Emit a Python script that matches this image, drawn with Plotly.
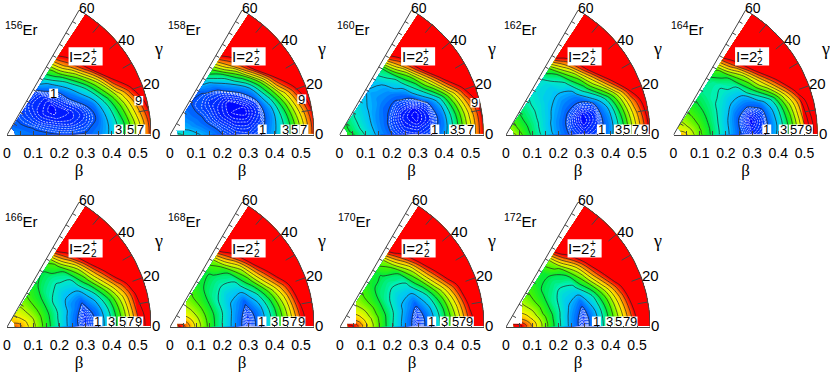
import numpy as np
import plotly.graph_objects as go

beta_grid = [0.03, 0.06, 0.10, 0.15, 0.20, 0.25, 0.30, 0.35, 0.40, 0.45, 0.50, 0.55]
gamma_grid = [0.5, 5, 10, 15, 20, 30, 40, 50, 57]

# Energies (MeV): one row per gamma_grid value, one column per beta_grid value
E156 = [
    [1.6, 1.4, 1.25, 1.1, 1.0, 1.0, 1.05, 1.4, 2.2, 4.1, 6.5, 9.4],
    [1.6, 1.35, 1.15, .95, .8, .75, .85, 1.25, 2.2, 4.0, 6.5, 9.5],
    [1.5, 1.3, 1.05, .8, .6, .5, .65, 1.05, 2.4, 4.5, 7.2, 10],
    [1.5, 1.25, 1.0, .65, .4, .35, .55, 1.1, 2.8, 5.2, 8.0, 10.8],
    [1.5, 1.2, .9, .5, .25, .3, .65, 1.4, 3.5, 6.3, 9.4, 12],
    [1.4, 1.1, .8, .35, .1, .6, 1.4, 3.0, 6.0, 10.5, 12, 12],
    [1.3, 1.05, .75, .4, .3, .9, 2.5, 5.5, 10, 12, 12, 12],
    [1.3, 1.05, .75, .5, .55, 1.8, 4.5, 8.5, 11, 12, 12, 12],
    [1.2, 1.05, .8, .65, .85, 2.7, 5.2, 9.5, 12, 12, 12, 12],
]
E158 = [
    [3.4, 2.8, 2.2, 1.6, 1.0, .72, .66, 1.0, 1.9, 3.5, 6.3, 9.5],
    [3.2, 2.6, 2.0, 1.4, .85, .55, .5, .8, 1.8, 3.5, 6.3, 9.6],
    [3.0, 2.4, 1.8, 1.2, .7, .35, .28, .6, 1.7, 3.9, 6.9, 10],
    [2.8, 2.2, 1.65, 1.05, .55, .2, .1, .5, 1.9, 4.6, 7.9, 10.8],
    [2.6, 2.0, 1.5, .95, .45, .1, .05, .6, 2.6, 5.8, 9.2, 12],
    [2.4, 1.9, 1.4, .9, .45, .2, .6, 1.7, 5.0, 10, 12, 12],
    [2.2, 1.8, 1.3, .85, .55, .7, 1.9, 4.6, 10, 12, 12, 12],
    [2.1, 1.7, 1.3, .9, .9, 1.6, 3.8, 8.2, 11, 12, 12, 12],
    [2.0, 1.7, 1.3, 1.0, 1.2, 2.6, 5.2, 9.5, 12, 12, 12, 12],
]
E160 = [
    [4.8, 3.9, 2.9, 1.7, 1.0, .65, .55, .8, 1.6, 3.9, 6.8, 10],
    [4.7, 3.8, 2.8, 1.6, .9, .45, .35, .6, 1.4, 3.8, 6.8, 10],
    [4.5, 3.7, 2.7, 1.55, .85, .35, .1, .4, 1.4, 4.0, 7.1, 10.2],
    [4.4, 3.6, 2.6, 1.55, .85, .3, .02, .45, 1.7, 4.6, 8.0, 11],
    [4.3, 3.5, 2.6, 1.55, .95, .4, .2, .7, 2.4, 5.8, 9.6, 12],
    [4.3, 3.5, 2.6, 1.7, 1.1, .9, 1.2, 3.2, 6.4, 10.8, 12, 12],
    [4.3, 3.5, 2.7, 1.9, 1.5, 1.5, 2.5, 5.2, 10.5, 12, 12, 12],
    [4.4, 3.6, 2.8, 2.1, 1.7, 2.0, 3.5, 8.0, 11.5, 12, 12, 12],
    [4.5, 3.8, 3.0, 2.4, 1.9, 2.4, 3.9, 9.5, 12, 12, 12, 12],
]
E162 = [
    [6.4, 5.1, 3.8, 2.6, 1.6, .85, .5, .75, 1.6, 4.1, 7.2, 10.4],
    [6.3, 5.0, 3.75, 2.5, 1.5, .75, .3, .6, 1.5, 4.0, 7.2, 10.4],
    [6.1, 4.9, 3.7, 2.5, 1.5, .7, .1, .5, 1.6, 4.3, 7.6, 10.7],
    [6.0, 4.8, 3.7, 2.5, 1.55, .8, .15, .55, 1.9, 4.9, 8.4, 11.2],
    [5.9, 4.8, 3.7, 2.6, 1.7, 1.0, .6, .85, 2.8, 6.0, 10, 12],
    [5.8, 4.7, 3.7, 2.7, 2.0, 1.5, 1.5, 3.6, 6.8, 11, 12, 12],
    [5.8, 4.7, 3.7, 2.9, 2.3, 2.1, 2.8, 5.5, 10.5, 12, 12, 12],
    [5.8, 4.8, 3.8, 3.0, 2.5, 2.5, 3.9, 8.0, 11.5, 12, 12, 12],
    [5.9, 4.9, 3.9, 3.1, 2.7, 2.9, 4.8, 10, 12, 12, 12, 12],
]
E164 = [
    [8.0, 6.7, 5.3, 3.7, 2.3, 1.1, .5, .85, 2.2, 4.6, 7.9, 11],
    [7.9, 6.6, 5.2, 3.7, 2.3, 1.05, .3, .7, 2.1, 4.6, 8.0, 11],
    [7.7, 6.5, 5.2, 3.7, 2.3, 1.05, .1, .7, 2.2, 4.9, 8.4, 11.4],
    [7.5, 6.4, 5.1, 3.7, 2.35, 1.15, .35, .85, 2.4, 5.5, 8.8, 12],
    [7.3, 6.3, 5.1, 3.7, 2.5, 1.4, .9, 1.3, 3.2, 6.8, 10.5, 12],
    [7.0, 6.1, 5.0, 3.8, 2.8, 2.1, 2.0, 4.2, 7.3, 11, 12, 12],
    [6.8, 6.0, 5.0, 3.9, 3.1, 2.8, 3.3, 6.0, 11, 12, 12, 12],
    [6.8, 6.0, 5.0, 4.0, 3.3, 3.2, 4.4, 9.0, 12, 12, 12, 12],
    [6.8, 6.0, 5.1, 4.1, 3.4, 3.6, 5.2, 10, 12, 12, 12, 12],
]
E166 = [
    [9.1, 7.9, 6.3, 4.5, 2.9, 1.4, .5, 1.2, 3.1, 5.6, 8.8, 11],
    [9.0, 7.8, 6.3, 4.5, 2.9, 1.4, .4, 1.2, 3.1, 5.7, 9.0, 11],
    [8.9, 7.7, 6.2, 4.5, 2.9, 1.5, .55, 1.35, 3.3, 6.0, 9.4, 11.5],
    [8.7, 7.6, 6.2, 4.5, 3.0, 1.7, .8, 1.8, 3.8, 6.6, 9.8, 12],
    [8.4, 7.4, 6.1, 4.5, 3.0, 1.7, 1.15, 2.4, 4.9, 8.0, 10.8, 12],
    [8.0, 7.1, 5.9, 4.5, 3.0, 2.2, 2.3, 4.5, 8.0, 11.5, 12, 12],
    [7.8, 6.9, 5.8, 4.5, 3.3, 2.9, 3.3, 6.2, 11, 12, 12, 12],
    [7.7, 6.8, 5.8, 4.6, 3.8, 3.6, 4.8, 9.0, 12, 12, 12, 12],
    [7.7, 6.8, 5.8, 4.8, 4.2, 4.0, 5.3, 10.5, 12, 12, 12, 12],
]
E168 = [
    [10.5, 8.9, 6.7, 4.7, 3.0, 1.5, .45, 1.5, 3.4, 5.8, 9.0, 12],
    [10.4, 8.8, 6.7, 4.7, 3.0, 1.55, .45, 1.5, 3.5, 6.0, 9.2, 12],
    [10.0, 8.6, 6.6, 4.7, 3.1, 1.65, .6, 1.6, 3.7, 6.3, 9.8, 12],
    [9.5, 8.4, 6.5, 4.7, 3.2, 1.8, .9, 2.0, 4.2, 7.0, 10.5, 12],
    [9.1, 8.1, 6.4, 4.7, 3.2, 1.9, 1.2, 2.6, 5.1, 8.2, 11.2, 12],
    [8.5, 7.6, 6.2, 4.7, 3.2, 2.4, 2.5, 4.6, 8.2, 11.5, 12, 12],
    [8.2, 7.3, 6.1, 4.7, 3.5, 3.1, 3.5, 6.3, 11, 12, 12, 12],
    [8.0, 7.1, 6.0, 4.8, 4.0, 3.8, 5.0, 9.0, 12, 12, 12, 12],
    [8.0, 7.1, 6.0, 5.0, 4.3, 4.2, 5.5, 10.5, 12, 12, 12, 12],
]
E170 = [
    [11, 9.6, 7.2, 5.0, 3.1, 1.5, .45, 1.6, 3.7, 6.2, 9.5, 12],
    [10.9, 9.5, 7.2, 5.0, 3.1, 1.55, .45, 1.6, 3.8, 6.4, 9.7, 12],
    [10.5, 9.2, 7.0, 5.0, 3.2, 1.7, .6, 1.8, 4.0, 6.8, 10.2, 12],
    [10.0, 8.8, 6.9, 5.0, 3.3, 1.9, .95, 2.2, 4.5, 7.5, 11, 12],
    [9.5, 8.4, 6.7, 4.9, 3.3, 2.0, 1.3, 2.8, 5.4, 8.6, 11.5, 12],
    [8.8, 7.9, 6.5, 4.9, 3.3, 2.5, 2.6, 4.8, 8.4, 11.8, 12, 12],
    [8.4, 7.5, 6.3, 4.8, 3.6, 3.2, 3.6, 6.6, 11, 12, 12, 12],
    [8.2, 7.3, 6.1, 4.9, 4.1, 3.9, 5.1, 9.2, 12, 12, 12, 12],
    [8.2, 7.3, 6.1, 5.1, 4.4, 4.3, 5.6, 10.8, 12, 12, 12, 12],
]
E172 = [
    [11.5, 10, 7.8, 5.4, 3.3, 1.6, .45, 2.0, 4.3, 7.0, 10, 12],
    [11.3, 10, 7.8, 5.4, 3.3, 1.6, .45, 2.0, 4.4, 7.1, 10.2, 12],
    [11.0, 9.6, 7.6, 5.3, 3.3, 1.7, .65, 2.1, 4.6, 7.5, 10.8, 12],
    [10.5, 9.2, 7.3, 5.2, 3.4, 1.9, .95, 2.5, 5.0, 8.1, 11.5, 12],
    [10.0, 8.8, 7.0, 5.0, 3.4, 2.1, 1.4, 3.0, 5.8, 9.2, 12, 12],
    [9.0, 8.1, 6.7, 5.0, 3.4, 2.6, 2.8, 5.1, 8.8, 12, 12, 12],
    [8.6, 7.7, 6.4, 4.9, 3.7, 3.3, 3.8, 6.8, 11, 12, 12, 12],
    [8.3, 7.4, 6.2, 5.0, 4.1, 4.0, 5.3, 9.5, 12, 12, 12, 12],
    [8.3, 7.4, 6.2, 5.1, 4.4, 4.3, 5.7, 11, 12, 12, 12, 12],
]

nuclei = ["156", "158", "160", "162", "164", "166", "168", "170", "172"]
energies = [E156, E158, E160, E162, E164, E166, E168, E170, E172]

level_names = ["1", "3", "5", "7", "9"]
level_beta = [
    [.178, .426, .47, .511, .503],
    [.352, .439, .477, .511, .503],
    [.364, .435, .467, .50, .517],
    [.364, .429, .46, .496, .528],
    [.356, .419, .457, .486, .515],
    [.347, .398, .44, .473, .503],
    [.351, .40, .44, .472, .50],
    [.35, .398, .439, .467, .494],
    [.345, .396, .43, .459, .485],
]
level_y = [
    [.159, .022, .022, .022, .131],
    [.022, .022, .022, .022, .137],
    [.022, .022, .022, .022, .123],
    [.022] * 5, [.022] * 5, [.022] * 5, [.022] * 5, [.022] * 5, [.022] * 5,
]
corner_cut = {1: (.057, .017), 6: (.061, .012), 7: (.061, .012), 8: (.061, .012)}

beta_ticks = [0, .1, .2, .3, .4, .5]
beta_text = ["0", "0.1", "0.2", "0.3", "0.4", "0.5"]
beta_minor = [.05, .15, .25, .35, .45]
gamma_ticks = [10, 20, 30, 40, 50]

# layout in pixels
W, H = 830, 375
SCALE = 262.0
BMAX = 0.55
origins_x = [7, 170, 339.5, 506, 673.5, 7, 170, 340, 506]
origins_y = [135, 135, 135, 135, 135, 327, 327, 327, 327]

colorscale = [
    [0.00, "rgb(0,0,255)"], [0.10, "rgb(0,90,255)"], [0.20, "rgb(0,190,255)"],
    [0.30, "rgb(0,240,190)"], [0.40, "rgb(0,235,60)"], [0.50, "rgb(70,245,0)"],
    [0.60, "rgb(180,250,0)"], [0.70, "rgb(255,245,0)"], [0.80, "rgb(255,170,0)"],
    [0.90, "rgb(255,80,0)"], [0.98, "rgb(255,0,0)"], [1.00, "rgb(255,0,0)"],
]
FONT = "Liberation Sans"
SERIF = "Liberation Serif"
LINE = "#444444"

fig = go.Figure()
layout = dict(
    width=W, height=H, margin=dict(l=0, r=0, t=0, b=0), showlegend=False,
    paper_bgcolor="white", plot_bgcolor="white", autosize=False,
)
annotations, shapes = [], []

b_arr = np.array(beta_grid)
g_arr = np.radians(gamma_grid)
gg, bb = np.meshgrid(g_arr, b_arr, indexing="ij")
carpet_x = (bb * np.cos(gg)).tolist()
carpet_y = (bb * np.sin(gg)).tolist()

hidden = dict(showgrid=False, showline=False, showticklabels="none",
              startline=False, endline=False, minorgridcount=0)

for i, (name, Z) in enumerate(zip(nuclei, energies)):
    n = i + 1
    xa, ya = f"x{n}", f"y{n}"
    ox, oy = origins_x[i], origins_y[i]
    layout[f"xaxis{n}"] = dict(
        domain=[ox / W, (ox + BMAX * SCALE) / W], range=[0, BMAX], anchor=ya,
        tickmode="array", tickvals=beta_ticks, ticktext=beta_text,
        ticks="inside", ticklen=4, tickwidth=1, tickcolor=LINE,
        minor=dict(tickmode="array", tickvals=beta_minor, ticks="inside", ticklen=4,
                   tickwidth=1, tickcolor=LINE, showgrid=False),
        showline=True, linecolor=LINE, linewidth=1, showgrid=False, zeroline=False,
        tickfont=dict(family=FONT, size=14, color="black"), ticklabelstandoff=5,
        title=dict(text="β", font=dict(family=SERIF, size=17, color="black"), standoff=2),
        automargin=False,
    )
    layout[f"yaxis{n}"] = dict(
        domain=[(H - oy) / H, (H - oy + 0.5 * SCALE) / H], range=[0, 0.5], anchor=xa,
        visible=False,
    )
    cid = f"c{n}"
    fig.add_trace(go.Carpet(carpet=cid, a=beta_grid, b=gamma_grid, x=carpet_x, y=carpet_y,
                            aaxis=hidden, baxis=hidden, xaxis=xa, yaxis=ya))
    fig.add_trace(go.Contourcarpet(
        carpet=cid, a=beta_grid, b=gamma_grid, z=Z, xaxis=xa, yaxis=ya,
        autocontour=False, contours=dict(start=0, end=12, size=0.2, coloring="fill", showlines=False),
        colorscale=colorscale, zauto=False, zmin=0, zmax=10, showscale=False,
        line=dict(width=0)))
    fig.add_trace(go.Contourcarpet(
        carpet=cid, a=beta_grid, b=gamma_grid, z=Z, xaxis=xa, yaxis=ya,
        autocontour=False, contours=dict(start=0.1, end=0.95, size=0.1, coloring="none"),
        showscale=False, line=dict(width=0.8, color="rgba(255,255,255,0.85)", dash="2px,1px", smoothing=1)))
    fig.add_trace(go.Contourcarpet(
        carpet=cid, a=beta_grid, b=gamma_grid, z=Z, xaxis=xa, yaxis=ya,
        autocontour=False, contours=dict(start=1, end=10, size=1, coloring="none"),
        showscale=False, line=dict(width=0.7, color="#222222", smoothing=1)))

    if i in corner_cut:
        bx, by = corner_cut[i]
        tx = by / np.tan(np.radians(60))
        fig.add_trace(go.Scatter(
            x=[tx, bx, bx, tx], y=[by, by, bx * np.tan(np.radians(60)), by],
            mode="lines", fill="toself", fillcolor="white", line=dict(width=0),
            hoverinfo="skip", xaxis=xa, yaxis=ya))

    # frame: 60 degree edge and outer arc
    c60, s60 = np.cos(np.radians(60)), np.sin(np.radians(60))
    fig.add_trace(go.Scatter(
        x=[0, BMAX * c60], y=[0, BMAX * s60], mode="lines", line=dict(color=LINE, width=1),
        hoverinfo="skip", xaxis=xa, yaxis=ya, cliponaxis=False))
    arc = np.radians(np.linspace(0, 60, 61))
    fig.add_trace(go.Scatter(
        x=BMAX * np.cos(arc), y=BMAX * np.sin(arc), mode="lines", line=dict(color=LINE, width=1),
        hoverinfo="skip", xaxis=xa, yaxis=ya, cliponaxis=False))
    # ticks on arc and on the 60 degree edge
    tx, ty = [], []
    for g in gamma_ticks:
        r = np.radians(g)
        tx += [BMAX * np.cos(r), (BMAX - .04) * np.cos(r), None]
        ty += [BMAX * np.sin(r), (BMAX - .04) * np.sin(r), None]
    for b in sorted(beta_ticks[1:] + beta_minor):
        px, py = b * c60, b * s60
        tx += [px, px + 0.015 * s60, None]
        ty += [py, py - 0.015 * c60, None]
    fig.add_trace(go.Scatter(x=tx, y=ty, mode="lines", line=dict(color=LINE, width=1),
                             hoverinfo="skip", xaxis=xa, yaxis=ya, cliponaxis=False))

    def note(text, x, y, size=13, family=FONT, anchor="center"):
        annotations.append(dict(text=text, x=(ox + x * SCALE) / W, y=(H - oy + y * SCALE) / H,
                                xref="paper", yref="paper", showarrow=False,
                                xanchor=anchor, yanchor="middle",
                                font=dict(family=family, size=size, color="black")))

    def box(x0, x1, y0, y1):
        shapes.append(dict(type="rect", xref=xa, yref=ya, x0=x0, x1=x1, y0=y0, y1=y1,
                           fillcolor="white", line=dict(width=0), layer="above"))

    for g_text, gx, gy, gs in [("60", .305, .483, 14), ("40", .455, .363, 15),
                               ("20", .551, .197, 15), ("0", .57, .006, 15)]:
        note(g_text, gx, gy, size=gs)
    note("γ", .579, .327, size=18, family=SERIF)
    note(f"<sup>{name}</sup>Er", -.017, .405, size=15, anchor="left")

    box(.235, .365, .265, .335)
    note("I=2", .278, .30, size=15)
    note("+", .331, .318, size=10)
    note("2", .331, .282, size=10)

    for t, lx, ly in zip(level_names, level_beta[i], level_y[i]):
        box(lx - .017, lx + .017, ly - .018, ly + .018)
        note(t, lx, ly, size=13)

layout["annotations"] = annotations
layout["shapes"] = shapes
fig.update_layout(**layout)
fig.write_html(
    "out.html", config=dict(displayModeBar=False),
    post_script="document.body.style.margin='0';"
                "document.querySelectorAll('svg text').forEach(function(t){"
                "if(!t.textContent.trim()){t.remove();}});",
)
